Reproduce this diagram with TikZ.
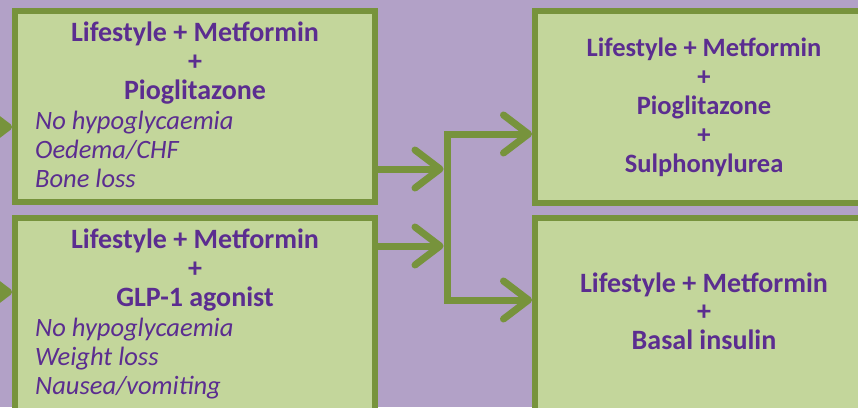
\documentclass[tikz,border=0pt]{standalone}
\usepackage{fontspec}
\setmainfont{Carlito}
\usetikzlibrary{arrows.meta}
\definecolor{lavender}{HTML}{B2A1C7}
\definecolor{leaf}{HTML}{C3D69B}
\definecolor{olive}{HTML}{77933C}
\definecolor{plum}{HTML}{5B2D90}
\tikzset{barb/.tip={Straight Barb[length=25pt,width=38pt,round]}}

\begin{document}
\begin{tikzpicture}[x=1pt,y=-1pt,
    box/.style={draw=olive,fill=leaf,line width=6pt,inner sep=0pt},
    head/.style={text=plum,font=\fontsize{28}{29}\selectfont\bfseries,anchor=base,inner sep=0pt},
    note/.style={text=plum,font=\fontsize{26.5}{29}\selectfont\itshape,anchor=base west,inner sep=0pt},
    link/.style={draw=olive,line width=7pt,-barb}]
    \useasboundingbox (0,0) rectangle (858,407);
    \clip (0,0) rectangle (858,407);
    \fill[lavender] (0,0) rectangle (858,407);
    % boxes
    \node[box,minimum width=360pt,minimum height=191pt] (pio) at (195,106.5) {};
    \node[box,minimum width=360pt,minimum height=202.5pt] (glp) at (195,318.75) {};
    \node[box,minimum width=345pt,minimum height=191.5pt] (sul) at (707.5,106.75) {};
    \node[box,minimum width=345pt,minimum height=202.5pt] (bas) at (707.5,318.75) {};
    % connectors
    \coordinate (from1) at (-60,127);
    \coordinate (from2) at (-60,292);
    \coordinate (out1) at (375,169);
    \coordinate (out2) at (375,246);
    \coordinate (forktop) at (447,134);
    \coordinate (forkbot) at (447,300);
    \draw[link] (from1) -- (from1 -| pio.west);
    \draw[link] (from2) -- (from2 -| glp.west);
    \draw[link,shorten >=3.5pt] (out1) -- (out1 -| forktop);
    \draw[link,shorten >=3.5pt] (out2) -- (out2 -| forktop);
    \draw[link,barb-barb] (forktop -| sul.west) -- (forktop) -- (forkbot) -- (forkbot -| bas.west);
    % texts
    \node[head] (pio1) at (195,41) {Lifestyle + Metformin};
    \node[head] (pio2) at (195,70) {+};
    \node[head] (pio3) at (195,99) {Pioglitazone};
    \node[note] (pio4) at (35,129) {No hypoglycaemia};
    \node[note] (pio5) at (35,158) {Oedema/CHF};
    \node[note] (pio6) at (35,187) {Bone loss};
    \node[head] (glp1) at (195,248) {Lifestyle + Metformin};
    \node[head] (glp2) at (195,277) {+};
    \node[head] (glp3) at (195,306) {GLP-1 agonist};
    \node[note] (glp4) at (35,336) {No hypoglycaemia};
    \node[note] (glp5) at (35,365) {Weight loss};
    \node[note] (glp6) at (35,394) {Nausea/vomiting};
    \node[head,font=\fontsize{26.5}{29}\selectfont\bfseries] (sul1) at (704,56) {Lifestyle + Metformin};
    \node[head,font=\fontsize{26.5}{29}\selectfont\bfseries] (sul2) at (704,85) {+};
    \node[head,font=\fontsize{26.5}{29}\selectfont\bfseries] (sul3) at (704,114) {Pioglitazone};
    \node[head,font=\fontsize{26.5}{29}\selectfont\bfseries] (sul4) at (704,143) {+};
    \node[head,font=\fontsize{26.5}{29}\selectfont\bfseries] (sul5) at (704,172) {Sulphonylurea};
    \node[head] (bas1) at (704,292) {Lifestyle + Metformin};
    \node[head] (bas2) at (704,320.5) {+};
    \node[head] (bas3) at (704,349) {Basal insulin};
\end{tikzpicture}
\end{document}
